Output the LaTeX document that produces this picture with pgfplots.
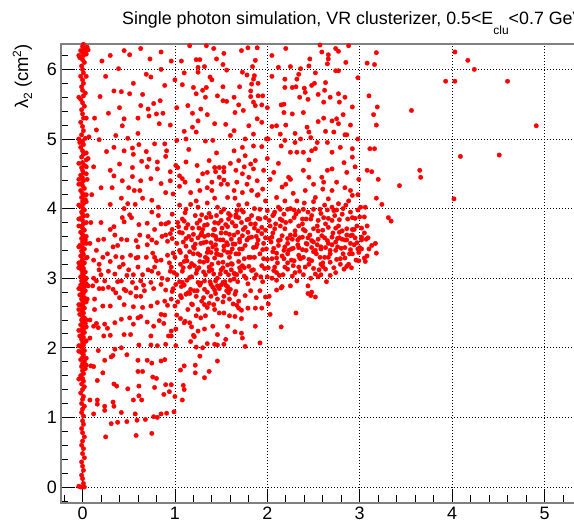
\documentclass[border=0pt]{standalone}
\usepackage{fontspec}
\setmainfont{Liberation Sans}
\usepackage{pgfplots}
\pgfplotsset{compat=1.18}
\usetikzlibrary{calc}
\definecolor{framegray}{RGB}{128,128,128}
\pgfplotsset{dots/.style={red, only marks, mark=*, mark size=2.25bp, mark options={draw=red, fill=red, line width=0.3bp}}}
\begin{document}
\begin{tikzpicture}
\begin{axis}[
  name=ax, at={(0,0)}, anchor=south west,
  scale only axis, width=514bp, height=459bp,
  xmin=-0.233, xmax=5.330, ymin=-0.230, ymax=6.365,
  xtick={0,1,2,3,4,5}, ytick={0,1,2,3,4,5,6},
  minor xtick={-0.2,0,0.2,...,5.2}, minor ytick={-0.2,0,0.2,...,6.2},
  xtick pos=bottom, ytick pos=left, tick align=inside,
  major tick length=14bp, minor tick length=7.5bp,
  tick style={black, line width=0.8bp},
  axis line style={framegray, line width=1.6bp},
  grid=major,
  major grid style={black, line width=0.6bp, dash pattern=on 1bp off 2bp},
  axis on top,
  tick label style={font=\fontsize{18}{18}\selectfont},
  /pgf/number format/assume math mode=true,
  xticklabel style={inner sep=0pt, yshift=-3.5bp},
  yticklabel style={inner sep=0pt, xshift=-4bp},
]
% column at x ~ 0
\addplot[dots] coordinates {
(-0.02,0.0) (0.0,0.0) (0.02,0.0) (-0.04,0.01) (0.01,0.05) (0.0,0.12) (-0.01,0.17) (0.01,0.24) (0.0,0.3) (-0.01,0.36) (0.02,0.42) (0.0,0.48) (0.01,0.55) (-0.01,0.6) (0.0,0.66) (0.02,0.72) (0.0,0.78) (-0.01,0.84) (0.01,0.9) (0.0,0.95)
(0.01,1.02) (-0.01,1.07) (0.0,1.12) (0.02,1.16) (-0.01,1.2) (0.0,1.26) (0.01,1.3) (-0.02,1.35) (0.0,1.4) (0.02,1.44) (-0.01,1.48) (0.01,1.52) (0.0,1.56) (-0.02,1.6) (0.01,1.63) (0.0,1.67) (0.03,1.7) (-0.01,1.73) (0.0,1.77) (0.02,1.8) (-0.02,1.83) (0.0,1.86) (0.01,1.9) (-0.01,1.93) (0.02,1.96) (0.0,1.99)
(-0.02,2.02) (0.01,2.04) (0.0,2.07) (0.03,2.09) (-0.01,2.12) (0.01,2.15) (-0.03,2.17) (0.0,2.2) (0.02,2.22) (-0.01,2.25) (0.01,2.27) (0.0,2.3) (-0.02,2.33) (0.03,2.35) (0.0,2.38) (-0.01,2.4) (0.02,2.43) (0.0,2.45) (-0.03,2.48) (0.01,2.5) (0.0,2.52) (-0.01,2.55) (0.02,2.57) (0.0,2.6) (-0.02,2.62) (0.01,2.64) (0.04,2.66) (0.0,2.68) (-0.01,2.7) (0.02,2.72) (0.0,2.74) (-0.03,2.76) (0.01,2.78) (0.0,2.8) (0.03,2.82) (-0.01,2.84) (0.0,2.86) (0.02,2.88) (-0.02,2.9) (0.0,2.92) (0.01,2.94) (-0.01,2.96) (0.03,2.98) (0.0,3.0)
(-0.02,3.02) (0.01,3.04) (0.0,3.07) (0.03,3.09) (-0.01,3.12) (0.01,3.14) (-0.03,3.17) (0.0,3.19) (0.02,3.22) (-0.01,3.24) (0.0,3.27) (0.04,3.29) (-0.02,3.32) (0.01,3.34) (0.0,3.37) (-0.01,3.39) (0.02,3.42) (0.0,3.44) (-0.03,3.47) (0.01,3.5) (0.0,3.52) (0.03,3.55) (-0.01,3.57) (0.01,3.6) (0.0,3.63) (-0.02,3.66) (0.02,3.69) (0.0,3.72) (-0.01,3.75) (0.01,3.78) (0.04,3.8) (0.0,3.83) (-0.02,3.86) (0.01,3.89) (0.0,3.92) (-0.01,3.95) (0.02,3.98) (0.0,4.01) (-0.03,4.04) (0.01,4.07) (0.0,4.1) (0.03,4.13) (-0.01,4.16) (0.01,4.19) (0.0,4.22) (-0.02,4.26) (0.02,4.29) (0.0,4.33) (-0.01,4.36) (0.01,4.4) (0.05,4.42) (0.0,4.44) (-0.02,4.48) (0.01,4.51) (0.0,4.55) (-0.01,4.59) (0.02,4.62) (0.0,4.66) (0.04,4.7)
(0.06,4.72) (-0.01,4.74) (0.01,4.78) (0.0,4.83) (-0.02,4.88) (0.01,4.92) (0.0,4.97) (0.03,5.01) (0.07,5.03) (-0.01,5.06) (0.01,5.12) (0.0,5.18) (-0.02,5.24) (0.01,5.3) (0.0,5.36) (-0.01,5.42) (0.02,5.47) (0.0,5.52) (-0.02,5.57) (0.01,5.62) (0.03,5.66) (0.0,5.7) (-0.01,5.75) (0.01,5.8) (0.0,5.85) (-0.02,5.9) (0.01,5.95) (0.0,6.0) (-0.01,6.05) (0.02,6.1) (0.0,6.14) (-0.03,6.17) (0.01,6.2) (0.04,6.22) (0.0,6.24) (-0.02,6.27) (0.06,6.28) (0.02,6.3) (0.0,6.33) (0.01,6.36)
(-0.04,1.55) (0.04,1.75) (-0.04,1.95) (0.04,2.1) (-0.04,2.25) (0.04,2.4) (-0.04,2.55) (0.05,2.7) (-0.04,2.85) (0.04,3.0) (-0.04,3.15) (0.05,3.3) (-0.04,3.45) (0.04,3.6) (-0.04,3.75) (0.05,3.9) (-0.04,4.05) (0.04,4.2) (-0.04,4.35) (0.04,4.5) (-0.04,4.65) (0.04,4.8) (-0.04,5.0) (0.04,5.3) (-0.04,5.6) (0.04,5.9) (-0.04,6.2) (0.05,6.32) (0.03,6.26)
(0.04,1.85) (-0.04,2.03) (0.04,2.3) (-0.04,2.62) (0.04,2.92) (-0.04,3.22) (0.04,3.5) (-0.04,3.85) (0.04,4.1) (-0.04,4.42) (0.04,4.6) (-0.03,4.95)
};
% main cloud
\addplot[dots] coordinates {
(4.03,6.25) (4.17,6.13) (4.24,6.0) (3.93,5.83) (4.03,5.83) (4.60,5.83) (3.56,5.41) (4.91,5.19) (4.09,4.75) (4.51,4.77) (3.65,4.55) (3.66,4.45) (4.02,4.14)
(3.18,6.24) (3.08,6.09) (3.16,6.07) (2.98,5.88) (3.10,5.62) (3.19,5.46) (3.15,5.35) (3.18,5.20) (3.11,4.86) (3.16,4.86) (3.13,4.53) (3.20,4.42) (3.43,4.33) (3.18,4.15) (3.24,4.06) (3.31,3.87) (3.34,3.82) (3.08,3.75) (3.17,3.50) (3.18,3.36) (3.09,3.58) (3.13,3.47) (3.06,3.24) (3.05,3.88)
(2.44,2.89) (2.44,2.78) (2.48,2.80) (2.47,2.75) (2.52,2.73) (2.64,2.95) (2.31,2.50) (2.15,2.30) (2.03,2.48) (1.92,2.07) (1.76,2.02) (1.73,2.14) (1.72,2.21) (1.87,2.31) (1.65,2.23) (1.72,2.42) (1.65,2.45) (2.10,2.83) (2.15,2.86) (2.25,2.89) (1.94,2.57) (1.87,2.57) (1.79,2.57) (2.01,2.63) (2.02,2.74) (1.98,2.73) (1.88,2.72) (1.76,2.75) (1.82,2.82) (1.92,2.82) (2.16,2.88) (2.32,2.96) (2.10,2.97) (1.69,2.67) (1.67,2.61) (1.65,2.77) (1.72,2.54) (1.69,2.57)
(0.25,0.72) (0.58,0.74) (0.75,0.77) (0.31,0.91) (0.38,0.93) (0.48,0.94) (0.59,0.96) (0.68,0.97) (0.77,1.01) (0.81,1.00) (0.85,1.05) (0.91,1.06) (0.99,1.08) (0.57,1.05) (0.42,1.07) (0.12,1.05) (0.24,1.10) (0.24,1.16) (0.16,1.19) (0.34,1.16) (0.33,1.22) (0.16,1.25) (0.08,1.25) (0.55,1.25) (0.61,1.31) (0.64,1.25) (0.88,1.33) (0.94,1.37) (1.00,1.30) (1.08,1.25) (1.10,1.40) (1.09,1.46) (0.90,1.47) (0.96,1.47) (0.80,1.56) (0.76,1.58) (0.78,1.43) (0.61,1.45) (0.49,1.41) (0.37,1.45) (0.34,1.48) (0.16,1.53) (0.22,1.64) (0.09,1.74) (0.12,1.73) (0.60,1.66) (0.65,1.66) (0.70,1.82) (0.75,1.78) (0.85,1.81) (0.89,1.83) (0.60,1.82) (0.48,1.90) (0.31,1.87) (0.33,1.89) (0.24,1.82) (0.17,1.96) (0.35,1.98) (0.42,2.00) (0.61,2.04) (0.74,2.04) (0.81,2.03) (0.90,2.05) (0.96,2.17) (1.01,2.03) (1.06,1.68) (1.10,1.74) (1.22,1.75) (1.22,1.64) (1.32,1.57) (1.37,1.66) (1.46,1.81) (1.27,1.88) (1.23,2.01) (1.30,2.00) (1.35,2.06) (1.46,2.04) (1.53,2.05) (1.21,2.16) (1.17,2.09)
(0.13,2.55) (0.22,2.60) (0.12,2.31) (0.08,2.14) (0.17,2.29) (0.24,2.34) (0.27,2.28) (0.23,2.17) (0.30,2.18) (0.42,2.41) (0.45,2.19) (0.51,2.43) (0.52,2.19) (0.60,2.43) (0.63,2.45) (0.74,2.17) (0.77,2.31) (0.83,2.39) (0.85,2.48) (0.89,2.47) (0.93,2.17) (0.96,2.24) (1.01,2.27) (1.02,2.47) (1.00,2.60) (1.06,2.42) (1.10,2.36) (1.11,2.38) (1.16,2.36) (1.18,2.30) (1.20,2.18) (1.25,2.24) (1.32,2.27) (1.41,2.31) (1.46,2.19) (1.43,2.05) (1.55,2.12) (1.23,2.46) (1.28,2.43) (1.33,2.46) (1.25,2.55) (1.35,2.58) (1.43,2.55) (1.48,2.50) (1.53,2.50) (1.59,2.46) (1.57,2.31) (1.46,2.70) (1.39,2.74) (1.53,2.74) (1.59,2.70) (1.32,2.84) (1.39,2.91) (1.46,2.89) (1.55,2.90) (1.60,2.84) (1.32,2.96) (1.25,2.94) (1.08,2.94) (1.12,2.77) (1.07,2.72) (0.96,2.70) (0.89,2.67) (0.81,2.65) (0.74,2.60) (0.65,2.58) (0.63,2.74) (0.67,2.82) (0.58,2.74) (0.52,2.79) (0.47,2.82) (0.40,2.72) (0.36,2.79) (0.33,2.84) (0.13,2.70) (0.11,2.89) (0.06,2.89) (0.15,2.96) (0.24,2.96) (0.42,2.96) (0.54,2.94) (0.63,2.96) (0.74,2.94) (0.85,2.91) (0.92,2.98) (1.01,2.91) (1.17,2.84) (1.23,2.74) (1.19,2.62) (1.14,2.55)
(0.45,6.27) (0.63,6.30) (0.51,6.21) (0.21,6.12) (0.73,6.15) (0.96,6.12) (0.39,6.01) (1.16,6.34) (1.34,6.34) (1.23,6.14) (1.27,6.14) (1.07,6.12) (1.53,6.23) (1.52,6.07) (1.25,6.03) (1.32,6.04) (1.56,5.99) (1.25,5.96) (0.69,5.93) (0.74,5.89) (1.00,5.85) (1.38,5.89) (1.40,5.85) (1.08,5.78) (0.34,5.69) (0.42,5.68) (0.51,5.65) (0.65,5.64) (0.19,5.61) (0.89,5.77) (1.20,5.74) (1.34,5.74) (1.52,5.75) (1.23,5.65) (1.33,5.60) (1.46,5.62) (1.52,5.55) (1.56,5.54) (0.84,5.55) (0.77,5.51) (0.63,5.48) (0.71,5.43) (0.28,5.37) (0.13,5.30) (0.45,5.29) (0.72,5.33) (0.80,5.36) (0.87,5.37) (0.83,5.22) (0.43,5.19) (1.02,5.45) (1.14,5.48) (1.19,5.37) (1.28,5.43) (1.25,5.26) (1.43,5.22) (1.55,5.21) (1.19,5.17) (1.10,5.11) (0.15,5.13) (0.60,5.08) (0.36,5.05) (0.18,4.99) (0.49,5.01) (1.02,4.98) (1.12,5.00) (1.23,5.10) (1.33,4.97) (1.41,4.98)
(0.26,4.82) (0.34,4.88) (0.45,4.83) (0.54,4.87) (0.61,4.92) (0.69,4.82) (0.78,4.93) (0.89,4.93) (0.91,4.83) (0.55,4.78) (0.64,4.68) (0.72,4.71) (0.40,4.64) (0.54,4.59) (0.81,4.67) (0.81,4.57) (0.95,4.53) (1.01,4.62) (1.03,4.59) (1.05,4.47) (1.08,4.43) (1.11,4.38) (1.12,4.67) (1.24,4.62) (1.25,4.40) (1.37,4.69) (1.43,4.59) (1.48,4.59) (1.53,4.59) (1.44,4.53) (1.48,4.45) (1.53,4.53) (1.35,4.52) (1.53,4.41) (1.57,4.35) (0.34,4.47) (0.43,4.40) (0.54,4.46) (0.63,4.40) (0.74,4.43) (0.85,4.36) (0.32,4.30) (0.42,4.15) (0.56,4.26) (0.62,4.26) (0.90,4.23) (0.98,4.21) (1.17,4.23) (1.23,4.11) (1.27,4.26) (1.35,4.30) (1.40,4.26) (1.50,4.35) (1.43,4.15) (1.57,4.16) (0.30,4.06) (0.49,4.07) (0.57,4.06) (0.82,4.02) (1.12,3.99) (1.17,4.06) (1.25,4.02) (1.35,4.08) (1.46,4.02) (1.53,3.99)
(0.34,3.74) (0.43,3.87) (0.51,3.91) (0.53,3.87) (0.61,3.77) (0.23,3.56) (0.30,3.70) (0.38,3.47) (0.15,3.40) (0.27,3.35) (0.12,3.26) (0.30,3.24) (0.43,3.30) (0.52,3.33) (0.60,3.45) (0.69,3.30) (0.76,3.36) (0.82,3.90) (0.85,3.78) (0.78,3.70) (0.86,3.60) (0.92,3.53) (0.80,3.51) (0.71,3.60) (0.97,3.70) (1.04,3.74) (1.08,3.65) (1.12,3.57) (1.19,3.72) (1.27,3.83) (1.35,3.77) (1.43,3.70) (1.50,3.83) (1.57,3.74) (1.32,3.60) (1.39,3.51) (1.45,3.56) (1.53,3.46) (1.61,3.56) (1.21,3.43) (1.27,3.33) (1.35,3.37) (1.43,3.29) (1.50,3.33) (1.57,3.19) (1.06,3.37) (1.00,3.30) (0.92,3.33) (0.85,3.26) (0.78,3.16) (0.96,3.16) (1.06,3.20) (1.16,3.16) (1.27,3.24) (1.37,3.16) (1.50,3.12) (1.61,3.12) (1.12,3.46) (1.45,3.41) (1.57,3.37) (1.35,3.25) (0.60,3.16) (0.50,3.12) (0.40,3.16) (0.18,3.12) (0.71,3.12)
(1.72,6.27) (1.79,6.31) (1.89,6.31) (1.87,6.13) (1.84,6.04) (2.57,6.35) (2.74,6.30) (2.77,6.26) (2.66,6.21) (2.66,6.15) (2.88,6.34) (2.59,6.25) (2.46,6.15) (2.65,6.08) (2.25,6.04) (2.12,6.03) (2.36,6.01) (2.74,5.98) (2.77,5.98) (1.73,5.96) (1.78,5.92) (1.86,5.91) (2.34,5.93) (2.32,5.86) (2.19,5.86) (1.85,5.86) (1.83,5.79) (2.19,5.74) (2.27,5.74) (2.31,5.75) (2.48,5.77) (2.51,5.80) (2.63,5.81) (2.40,5.73) (2.41,5.67) (1.82,5.69) (1.90,5.62) (1.95,5.62) (1.82,5.61) (1.64,5.60) (2.55,5.64) (2.68,5.60) (2.77,5.65) (2.84,5.60) (2.44,5.57) (2.61,5.53) (2.78,5.53) (1.69,5.49) (1.85,5.53) (1.87,5.48) (1.94,5.49) (2.18,5.50) (2.15,5.49) (2.92,5.46) (1.65,5.38) (1.74,5.41) (2.18,5.38) (2.27,5.36) (2.39,5.38) (1.89,5.29) (1.94,5.24) (2.61,5.30) (2.70,5.26) (2.75,5.29) (2.77,5.22) (1.80,5.19) (2.05,5.18) (2.10,5.19) (2.43,5.17) (2.63,5.11) (1.64,5.12) (1.85,5.07) (2.14,5.07) (2.30,5.08) (2.45,5.10) (2.47,5.02) (2.72,5.10) (2.84,5.06) (2.86,5.06) (1.76,5.00) (1.99,5.00) (2.01,5.00) (2.19,4.98) (2.36,5.00) (2.54,4.95) (2.52,4.86) (2.48,4.83)
(1.85,4.90) (1.94,4.89) (2.15,4.90) (2.25,4.81) (2.32,4.81) (2.39,4.81) (2.70,4.81) (2.79,4.88) (2.92,4.86) (1.73,4.88) (1.64,4.83) (1.69,4.69) (1.76,4.76) (1.82,4.64) (1.87,4.69) (1.66,4.55) (1.73,4.50) (1.85,4.57) (1.96,4.55) (2.07,4.52) (2.23,4.45) (2.39,4.55) (2.59,4.45) (2.70,4.57) (2.83,4.66) (2.86,4.52) (2.92,4.74) (2.99,4.42) (3.08,4.55) (1.67,4.38) (1.78,4.35) (1.89,4.40) (2.03,4.42) (2.16,4.31) (2.25,4.42) (2.50,4.35) (2.61,4.38) (2.41,4.26) (2.70,4.26) (2.84,4.30) (2.90,4.26) (2.92,4.19) (1.64,4.26) (1.73,4.23) (1.83,4.26) (1.89,4.19) (1.98,4.11) (2.10,4.16) (2.19,4.11) (2.32,4.11) (2.52,4.16) (2.66,4.14) (2.77,4.07) (2.88,4.11) (3.01,4.02) (3.06,4.02) (1.78,4.07) (1.92,3.99) (2.14,3.99) (2.39,3.99) (2.57,3.99) (1.67,3.97)
(1.69,3.87) (1.80,3.85) (1.98,3.87) (2.07,3.92) (2.16,3.83) (2.29,3.87) (2.48,3.90) (2.61,3.87) (2.70,3.83) (2.81,3.92) (2.92,3.87) (1.65,3.75) (1.76,3.73) (1.87,3.78) (1.94,3.73) (2.09,3.78) (2.19,3.71) (2.34,3.75) (2.41,3.68) (2.54,3.75) (2.66,3.73) (2.77,3.75) (2.86,3.71) (1.73,3.61) (1.83,3.59) (1.94,3.64) (2.05,3.59) (2.16,3.61) (2.27,3.56) (2.38,3.59) (2.48,3.54) (2.59,3.61) (2.70,3.59) (2.81,3.56) (2.90,3.61) (2.97,3.51) (3.02,3.59) (1.65,3.49) (1.76,3.47) (1.89,3.49) (1.99,3.42) (2.12,3.47) (2.23,3.40) (2.34,3.44) (2.43,3.49) (2.52,3.40) (2.63,3.44) (2.74,3.40) (2.84,3.44) (2.92,3.35) (2.99,3.37) (1.69,3.35) (1.82,3.30) (1.92,3.35) (2.05,3.28) (2.16,3.32) (2.29,3.25) (2.39,3.30) (2.48,3.25) (2.57,3.30) (2.68,3.23) (2.79,3.28) (2.88,3.20) (1.73,3.18) (1.83,3.11) (1.94,3.18) (2.07,3.11) (2.19,3.16) (2.30,3.08) (2.41,3.16) (2.52,3.06) (2.63,3.13) (2.74,3.08) (2.83,3.13) (1.65,3.06)
(1.02,3.05) (1.05,3.4) (1.08,3.85) (1.1,2.9) (1.13,3.25) (1.15,3.6) (1.18,3.02) (1.2,3.35) (1.22,3.9) (1.24,2.82) (1.26,3.15) (1.28,3.5) (1.3,3.7) (1.31,2.72) (1.33,3.05) (1.35,3.28) (1.36,3.62) (1.38,2.95) (1.4,3.12) (1.41,3.45) (1.43,3.8) (1.44,2.78) (1.46,3.0) (1.47,3.22) (1.49,3.55) (1.5,2.9) (1.52,3.15) (1.53,3.4) (1.55,3.65) (1.56,2.82) (1.58,3.05) (1.59,3.3) (1.6,3.9) (1.12,3.72) (1.16,2.78) (1.21,3.18) (1.27,2.9) (1.34,3.52) (1.39,3.88) (1.45,3.35) (1.51,3.72) (1.57,3.48) (1.06,2.75) (1.09,3.15) (1.25,3.58) (1.32,2.62) (1.42,2.62) (1.48,2.85) (1.54,2.95) (1.37,3.1)
(1.62,3.2) (1.64,3.62) (1.67,3.05) (1.7,3.42) (1.72,3.8) (1.75,3.15) (1.78,3.55) (1.8,3.3) (1.83,3.9) (1.85,3.12) (1.88,3.45) (1.9,3.68) (1.93,3.02) (1.96,3.28) (1.98,3.58) (2.01,3.15) (2.03,3.75) (2.06,3.38) (2.08,3.95) (2.11,3.22) (2.14,3.55) (2.17,3.05) (2.2,3.8) (2.22,3.35) (2.25,3.62) (2.28,3.18) (2.31,3.92) (2.33,3.48) (2.36,3.28) (2.39,3.7) (2.42,3.4) (2.45,3.2) (2.47,3.85) (2.5,3.52) (2.53,3.35) (2.55,3.68) (2.58,3.45) (2.6,3.22) (2.63,3.78) (2.66,3.5) (2.68,3.35) (2.71,3.65) (2.73,3.9) (2.76,3.45) (2.79,3.2) (2.81,3.68) (2.84,3.55) (2.87,3.85) (2.89,3.35) (2.92,3.62) (2.94,3.48) (2.97,3.75) (2.99,3.25) (3.02,3.42) (3.05,3.65) (3.08,3.32) (1.66,3.88) (1.77,3.0) (1.92,3.85) (2.04,3.52) (2.19,3.45) (2.35,3.58) (2.44,3.95) (2.56,3.12) (2.65,3.98) (2.78,3.58) (2.91,3.15) (3.0,3.88) (1.69,4.05) (2.12,4.02) (2.4,4.08) (2.62,4.05) (2.85,4.05)
(0.12,3.0) (0.18,3.2) (0.22,2.85) (0.28,3.1) (0.33,3.45) (0.38,2.95) (0.44,3.2) (0.48,3.55) (0.55,3.05) (0.6,3.3) (0.66,2.9) (0.7,3.48) (0.75,3.1) (0.8,3.25) (0.86,3.0) (0.9,3.62) (0.95,3.1) (0.98,2.85) (0.35,3.62) (0.62,3.62) (0.08,3.5) (0.08,2.4) (0.1,4.2) (0.12,4.6) (0.09,3.8)
(1.03,2.66) (1.18,2.63) (1.29,2.67) (1.37,2.64) (1.52,2.66) (1.63,2.63)
(0.97,2.81) (1.14,2.79) (1.21,2.82) (1.35,2.8) (1.43,2.83) (1.58,2.79) (1.66,2.81)
(1.05,2.95) (1.13,2.97) (1.28,2.93) (1.44,2.96) (1.52,2.94) (1.6,2.97) (1.68,2.95)
(0.99,3.08) (1.08,3.1) (1.23,3.07) (1.31,3.09) (1.42,3.06) (1.55,3.09) (1.64,3.07)
(0.94,3.22) (1.1,3.24) (1.18,3.21) (1.31,3.23) (1.4,3.2) (1.52,3.23) (1.61,3.21) (1.69,3.24)
(0.98,3.36) (1.16,3.38) (1.25,3.35) (1.39,3.37) (1.47,3.34) (1.6,3.37) (1.66,3.35)
(1.02,3.5) (1.09,3.52) (1.22,3.49) (1.31,3.51) (1.44,3.48) (1.56,3.51) (1.63,3.49)
(0.95,3.64) (1.05,3.66) (1.2,3.63) (1.29,3.65) (1.41,3.62) (1.5,3.65) (1.59,3.63) (1.68,3.66)
(0.9,3.78) (1.03,3.8) (1.14,3.77) (1.24,3.79) (1.32,3.76) (1.47,3.79) (1.55,3.77) (1.62,3.8)
(0.97,3.92) (1.11,3.94) (1.29,3.91) (1.37,3.93) (1.45,3.9) (1.58,3.93) (1.66,3.91)
(1.75,3.03) (1.88,3.05) (2.0,3.02) (2.13,3.04) (2.27,3.03) (2.39,3.05) (2.55,3.02) (2.68,3.04)
(1.7,3.15) (1.8,3.17) (1.97,3.14) (2.08,3.16) (2.22,3.13) (2.34,3.16) (2.5,3.14) (2.6,3.17) (2.72,3.15) (2.86,3.17)
(1.75,3.28) (1.86,3.3) (2.0,3.27) (2.1,3.29) (2.26,3.26) (2.35,3.29) (2.45,3.27) (2.62,3.3) (2.75,3.27) (2.84,3.29) (2.96,3.26) (3.05,3.29)
(1.73,3.42) (1.85,3.44) (1.95,3.41) (2.07,3.43) (2.18,3.4) (2.28,3.43) (2.38,3.41) (2.48,3.44) (2.58,3.42) (2.68,3.4) (2.8,3.43) (2.9,3.41) (3.0,3.44) (3.1,3.42)
(1.7,3.56) (1.8,3.58) (1.9,3.55) (2.02,3.57) (2.12,3.54) (2.22,3.57) (2.33,3.55) (2.44,3.58) (2.55,3.56) (2.65,3.54) (2.76,3.57) (2.86,3.55) (2.95,3.58) (3.07,3.56)
(1.74,3.7) (1.86,3.72) (1.98,3.69) (2.08,3.71) (2.3,3.68) (2.5,3.71) (2.6,3.69) (2.74,3.72) (2.92,3.7) (3.02,3.72)
(1.78,3.84) (1.9,3.86) (2.02,3.83) (2.14,3.85) (2.25,3.82) (2.38,3.85) (2.55,3.83) (2.66,3.86) (2.78,3.84) (2.95,3.86)
(1.72,3.98) (1.86,4.0) (2.0,3.97) (2.22,3.99) (2.34,3.96) (2.5,3.99) (2.72,3.97) (2.82,4.0) (2.98,3.98)
(0.15,2.35) (0.35,2.36) (0.55,2.34) (0.7,2.37) (0.88,2.35) (0.3,2.6) (0.45,2.62) (0.55,2.59) (0.92,2.61)
(0.18,2.85) (0.28,2.87) (0.45,2.84) (0.58,2.86) (0.77,2.85) (0.9,2.83) (0.2,3.05) (0.35,3.06) (0.48,3.04) (0.65,3.05) (0.82,3.07)
(0.22,3.3) (0.36,3.31) (0.58,3.29) (0.78,3.3) (0.17,3.55) (0.42,3.56) (0.58,3.54) (0.75,3.55) (0.97,3.57) (0.2,3.8) (0.45,3.81) (0.7,3.79) (0.93,3.8)
(0.25,5.9) (0.55,5.8) (0.85,6.0) (1.1,5.95) (1.45,6.15) (1.7,5.75) (2.05,5.9) (2.45,6.05) (2.85,6.1) (0.4,5.45) (0.95,5.2) (1.35,5.35) (1.6,5.05) (2.0,5.45) (2.35,5.6) (2.55,5.25) (2.9,5.2) (0.3,4.55) (0.7,4.6) (1.15,4.85) (1.45,4.8) (1.8,4.45) (2.12,4.65) (2.45,4.7) (2.65,4.55) (2.95,4.6) (0.2,4.3) (0.65,4.15) (1.05,4.32) (1.3,4.5) (1.65,4.15) (1.95,4.28) (2.28,4.22) (2.6,4.28) (2.98,4.2) (0.45,4.0) (0.75,4.12) (1.05,4.05) (2.25,4.0) (2.75,3.98)
(1.07,2.88) (1.16,3.01) (1.24,3.12) (1.33,3.3) (1.41,2.87) (1.49,3.06) (1.57,2.88) (1.64,2.99) (1.71,3.1) (1.79,2.92) (1.86,3.0) (1.95,2.95) (2.05,3.0) (1.12,3.31) (1.2,3.45) (1.28,3.62) (1.36,3.42) (1.44,3.6) (1.52,3.55) (1.62,3.42) (1.7,3.52) (1.79,3.66) (1.88,3.6) (1.96,3.5) (1.1,3.82) (1.18,3.55) (1.26,3.72) (1.34,3.87) (1.42,3.7) (1.5,3.95) (1.58,3.85) (1.66,3.75) (1.74,3.95) (1.82,3.78)
(2.06,3.65) (2.14,3.75) (2.22,3.5) (2.3,3.62) (2.38,3.78) (2.46,3.62) (2.54,3.48) (2.62,3.58) (2.7,3.48) (2.78,3.66) (2.86,3.62) (2.94,3.7) (3.02,3.55) (2.1,3.36) (2.18,3.28) (2.26,3.42) (2.34,3.33) (2.42,3.5) (2.5,3.38) (2.58,3.2) (2.66,3.3) (2.74,3.52) (2.82,3.35) (2.9,3.5) (2.98,3.42) (2.06,3.9) (2.18,3.92) (2.29,3.98) (2.42,3.85) (2.58,3.93) (2.7,4.02) (2.9,3.95) (2.1,3.08) (2.22,3.22) (2.35,3.1) (2.47,3.0) (2.58,3.05)
(0.3,6.2) (0.85,6.25) (1.42,6.3) (2.05,6.2) (2.2,6.3) (2.52,5.95) (0.6,5.3) (1.3,5.7) (1.9,5.8) (2.2,5.2) (2.62,5.7) (2.82,5.35) (0.9,4.75) (1.6,4.65) (2.0,4.72) (2.3,4.95) (2.65,4.95) (2.98,5.0) (0.5,4.3) (0.95,4.4) (1.4,4.38) (1.75,4.6) (2.45,4.45) (2.75,4.38) (0.75,3.95) (1.9,4.2) (2.2,4.35) (2.5,4.1)
};
\end{axis}
\node[anchor=base west, inner sep=0pt, font=\fontsize{17.9}{17.9}\selectfont] at ($(ax.south west)+(61bp,478bp)$)
  {Single photon simulation, VR clusterizer, 0.5<E\raisebox{-10bp}{\fontsize{12}{12}\selectfont clu}<0.7 GeV};
\node[anchor=base, rotate=90, inner sep=0pt, font=\fontsize{18.5}{18.5}\selectfont] at ($(ax.south west)+(-33bp,426.5bp)$)
  {λ\raisebox{-4bp}{\fontsize{12}{12}\selectfont 2} (cm\raisebox{7bp}{\fontsize{12}{12}\selectfont 2})};
\pgfresetboundingbox
\path[use as bounding box] ($(ax.south west)+(-61bp,-19bp)$) rectangle ($(ax.north east)+(-1bp,44bp)$);
\end{tikzpicture}
\end{document}
